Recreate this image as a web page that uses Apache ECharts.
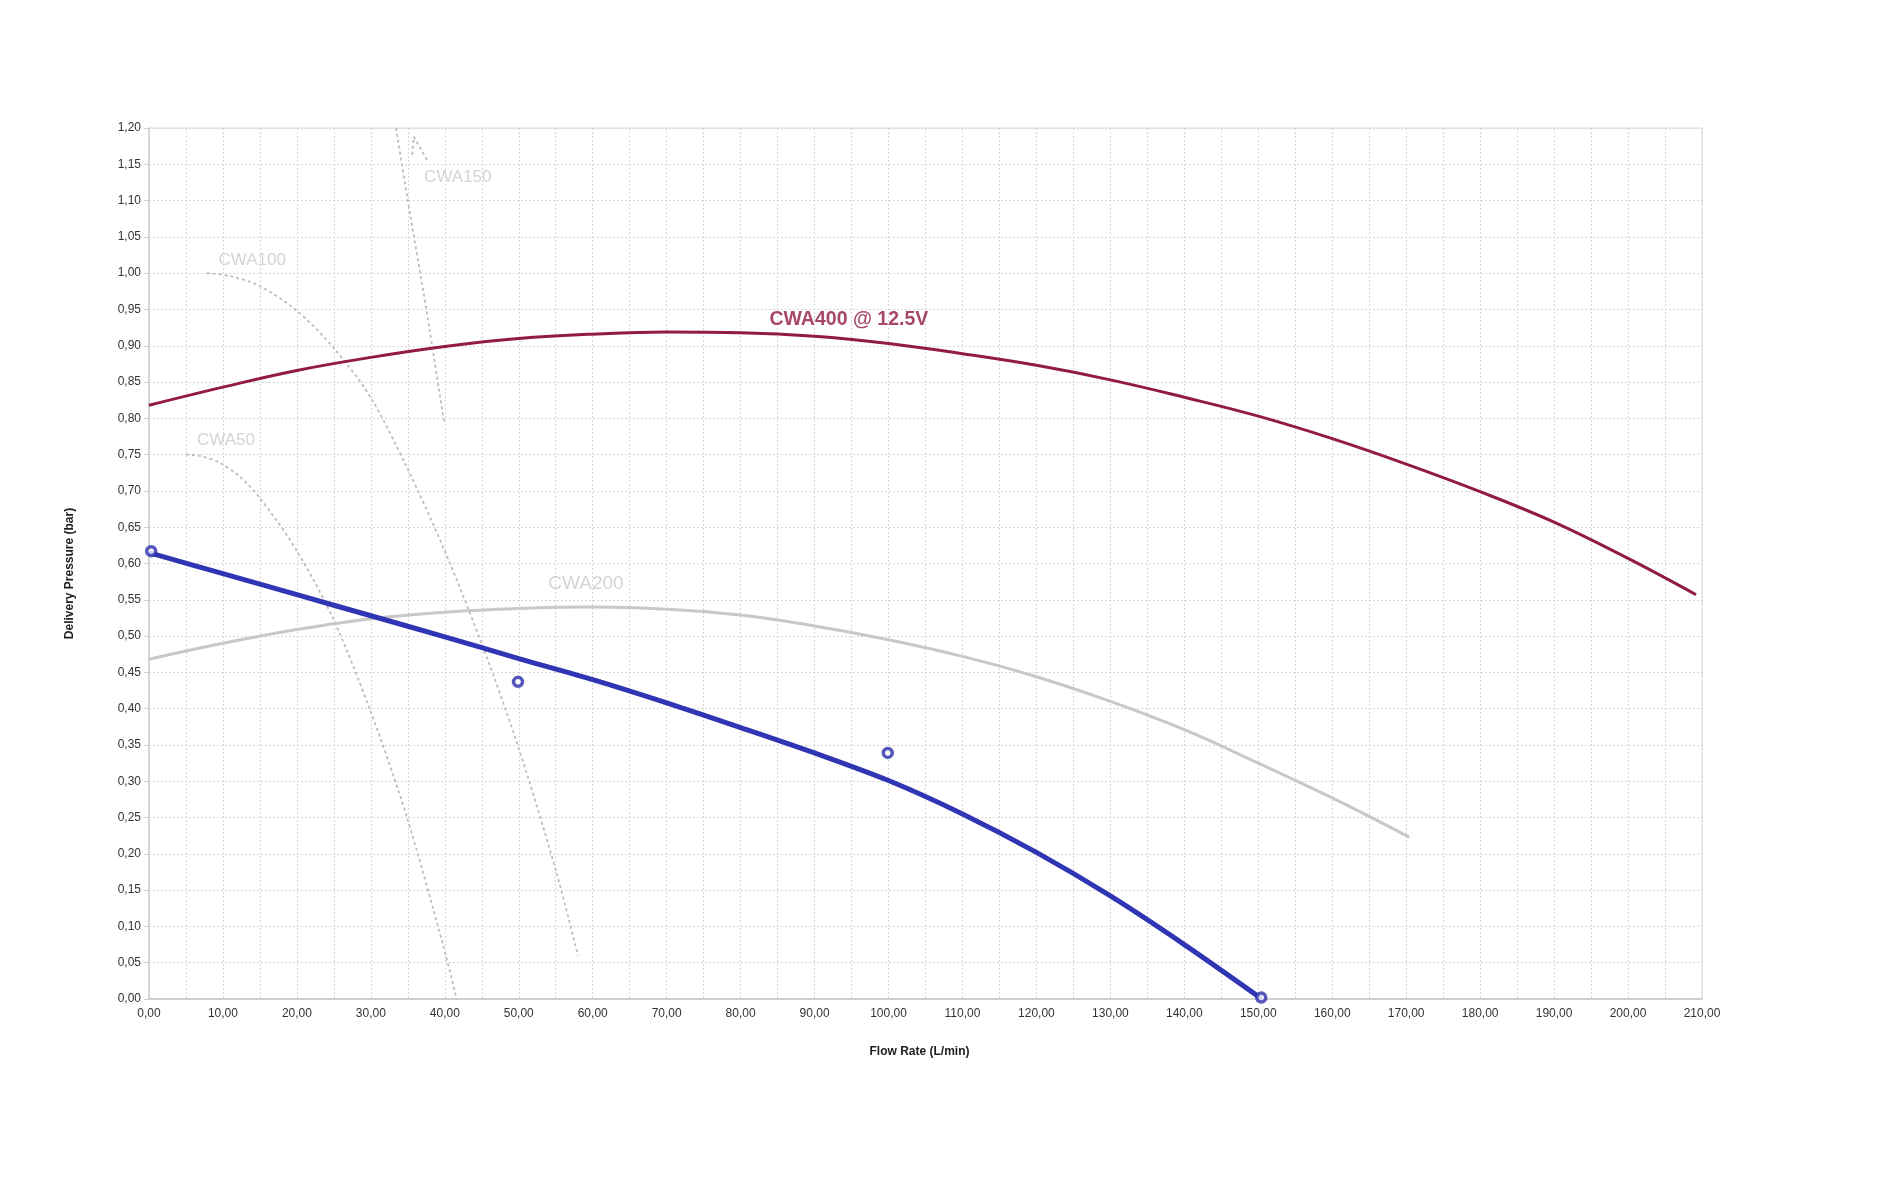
<!DOCTYPE html>
<html>
<head>
<meta charset="utf-8">
<script src="https://cdn.jsdelivr.net/npm/echarts@6/dist/echarts.min.js"></script>
<style>
html,body{margin:0;padding:0;background:#fff;}
#chart{width:1900px;height:1177px;}
</style>
</head>
<body>
<div id="chart"></div>
<script>
// ---- Data ----
const xTickLabels = ['0,00','10,00','20,00','30,00','40,00','50,00','60,00','70,00','80,00','90,00','100,00','110,00','120,00','130,00','140,00','150,00','160,00','170,00','180,00','190,00','200,00','210,00'];
const yTickLabels = ['0,00','0,05','0,10','0,15','0,20','0,25','0,30','0,35','0,40','0,45','0,50','0,55','0,60','0,65','0,70','0,75','0,80','0,85','0,90','0,95','1,00','1,05','1,10','1,15','1,20'];

const cwa50Flow = [5.0, 7.0, 9.5, 12.0, 15.0, 19.9, 24.9, 29.9, 34.8, 39.8, 41.6];
const cwa50Pressure = [0.750, 0.748, 0.739, 0.722, 0.690, 0.619, 0.524, 0.398, 0.253, 0.073, 0.0];

const cwa100Flow = [7.8, 11.0, 15.0, 19.9, 24.9, 29.9, 34.8, 40.0, 45.2, 50.1, 55.1, 58.0];
const cwa100Pressure = [1.0, 0.996, 0.982, 0.949, 0.898, 0.830, 0.734, 0.617, 0.484, 0.342, 0.174, 0.060];

const cwa150Flow = [33.4, 35.0, 37.5, 39.9];
const cwa150Pressure = [1.20, 1.10, 0.95, 0.795];

const arrowFlow = [35.6, 35.8, 37.6];
const arrowPressure = [1.163, 1.188, 1.156];

const cwa200Flow = [0, 10, 20, 30, 40, 50, 60, 70, 80, 90, 100, 110, 120, 130, 140, 150, 160, 170.4];
const cwa200Pressure = [0.468, 0.490, 0.509, 0.524, 0.533, 0.538, 0.540, 0.537, 0.529, 0.514, 0.495, 0.472, 0.444, 0.410, 0.371, 0.325, 0.277, 0.223];

const cwa400Flow = [0, 10, 20, 30, 40, 50, 60, 70, 80, 90, 100, 110, 120, 130, 140, 150, 160, 170, 180, 190, 200, 209.2];
const cwa400Pressure = [0.818, 0.843, 0.866, 0.884, 0.899, 0.910, 0.916, 0.919, 0.918, 0.913, 0.903, 0.889, 0.873, 0.853, 0.829, 0.803, 0.772, 0.737, 0.699, 0.657, 0.607, 0.557];

const testFitFlow = [0, 10, 20, 30, 40, 50, 60, 70, 80, 90, 100, 110, 120, 130, 140, 150.5];
const testFitPressure = [0.615, 0.586, 0.557, 0.528, 0.499, 0.469, 0.440, 0.408, 0.374, 0.339, 0.301, 0.255, 0.202, 0.142, 0.075, 0.0];

const testPointFlow = [0.3, 49.9, 99.9, 150.4];
const testPointPressure = [0.617, 0.437, 0.339, 0.002];

const labelTexts = ['CWA150', 'CWA100', 'CWA50', 'CWA200', 'CWA400 @ 12.5V'];
const labelFlow = [37.2, 9.4, 6.5, 54.0, 83.9];
const labelPressure = [1.1326, 1.0175, 0.7704, 0.5718, 0.936];

// ---- helpers ----
const pairs = (xs, ys) => xs.map((x, i) => [x, ys[i]]);
const FONT = '"Liberation Sans", Arial, sans-serif';
const dotted = (name, xs, ys) => ({
  name, type: 'line', data: pairs(xs, ys), smooth: 0.3, showSymbol: false, symbol: 'none',
  lineStyle: { color: '#bdbdbd', width: 1.8, type: [3, 3] }, silent: true, z: 2
});
const labelSeries = (i, style) => ({
  type: 'scatter', symbolSize: 0, data: [[labelFlow[i], labelPressure[i]]], silent: true, z: 10,
  label: Object.assign({ show: true, position: 'inside', align: 'left', verticalAlign: 'middle',
    formatter: labelTexts[i], fontFamily: FONT }, style)
});

const chart = echarts.init(document.getElementById('chart'), null, { renderer: 'canvas' });
chart.setOption({
  animation: false,
  backgroundColor: '#ffffff',
  grid: { left: 149, top: 128, width: 1553, height: 871, show: true, borderColor: '#dcdcdc', borderWidth: 1, backgroundColor: 'transparent' },
  xAxis: {
    type: 'value', min: 0, max: 210, interval: 5,
    name: 'Flow Rate (L/min)', nameLocation: 'middle', nameGap: 47,
    nameTextStyle: { fontFamily: FONT, fontSize: 12, fontWeight: 'bold', color: '#222', padding: [0, 12, 0, 0] },
    axisLine: { show: true, onZero: false, lineStyle: { color: '#cfcfcf', width: 2 } },
    axisTick: { show: false },
    axisLabel: { fontFamily: FONT, fontSize: 12, color: '#333', margin: 9, showMaxLabel: true,
      formatter: v => { const i = Math.round(v / 10); return Math.abs(v - i * 10) < 1e-6 ? xTickLabels[i] : ''; } },
    splitLine: { show: true, lineStyle: { color: '#d6d6d6', width: 1, type: [2, 2] } }
  },
  yAxis: {
    type: 'value', min: 0, max: 1.2, interval: 0.05,
    name: 'Delivery Pressure (bar)', nameLocation: 'middle', nameGap: 73,
    nameTextStyle: { fontFamily: FONT, fontSize: 12, fontWeight: 'bold', color: '#222', padding: [0, 20, 0, 0] },
    axisLine: { show: true, onZero: false, lineStyle: { color: '#cfcfcf', width: 1.5 } },
    axisTick: { show: true, length: 5, lineStyle: { color: '#cfcfcf' } },
    axisLabel: { fontFamily: FONT, fontSize: 12, color: '#333', margin: 8,
      formatter: v => yTickLabels[Math.round(v / 0.05)] },
    splitLine: { show: true, lineStyle: { color: '#d6d6d6', width: 1, type: [2, 2] } }
  },
  series: [
    dotted('CWA50', cwa50Flow, cwa50Pressure),
    dotted('CWA100', cwa100Flow, cwa100Pressure),
    dotted('CWA150', cwa150Flow, cwa150Pressure),
    Object.assign(dotted('arrow', arrowFlow, arrowPressure), { smooth: false }),
    {
      name: 'CWA200', type: 'line', data: pairs(cwa200Flow, cwa200Pressure), smooth: 0.4, symbol: 'none',
      lineStyle: { color: '#c8c8c8', width: 3 }, silent: true, z: 3
    },
    {
      name: 'CWA400 @ 12.5V', type: 'line', data: pairs(cwa400Flow, cwa400Pressure), smooth: 0.4, symbol: 'none',
      lineStyle: { color: '#921a47', width: 3 }, silent: true, z: 4
    },
    {
      name: 'Test fit', type: 'line', data: pairs(testFitFlow, testFitPressure), smooth: 0.3, symbol: 'none',
      lineStyle: { color: '#3035b4', width: 5 }, silent: true, z: 5
    },
    {
      name: 'Test points', type: 'scatter', data: pairs(testPointFlow, testPointPressure), clip: false,
      symbol: 'circle', symbolSize: 9,
      itemStyle: { color: '#ffffff', borderColor: '#2a2fae', borderWidth: 3.5 }, silent: true, z: 6
    },
    labelSeries(0, { fontSize: 17, color: '#c9c9c9' }),
    labelSeries(1, { fontSize: 17, color: '#c9c9c9' }),
    labelSeries(2, { fontSize: 17, color: '#c9c9c9' }),
    labelSeries(3, { fontSize: 19, color: '#c9c9c9' }),
    labelSeries(4, { fontSize: 19.5, fontWeight: 'bold', color: '#911846' })
  ]
});
</script>
</body>
</html>
